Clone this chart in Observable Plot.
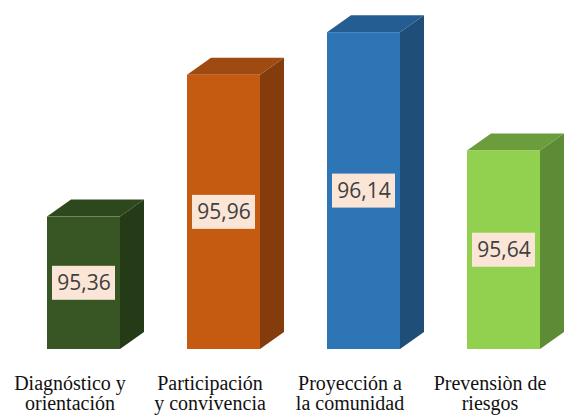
<!DOCTYPE html>
<html>
<head>
<meta charset="utf-8">
<script src="https://cdn.jsdelivr.net/npm/d3@7"></script>
<script src="https://cdn.jsdelivr.net/npm/@observablehq/plot@0.6"></script>
<style>
  html, body { margin: 0; padding: 0; background: #fff; }
  #chart { width: 565px; height: 415px; }
</style>
</head>
<body>
<div id="chart"></div>
<script>
// ---- data ----
const categories = ["Diagnóstico y orientación", "Participación y convivencia", "Proyección a la comunidad", "Prevensiòn de riesgos"];
const tickLabels = ["Diagnóstico y\norientación", "Participación\ny convivencia", "Proyección a\nla comunidad", "Prevensiòn de\nriesgos"];
const values = [95.36, 95.96, 96.14, 95.64];
const valueLabels = ["95,36", "95,96", "96,14", "95,64"];

// ---- styles ----
const frontColors = ["#375623", "#c55a11", "#2e75b6", "#92d050"];
const topColors = ["#2e481d", "#9f4a10", "#245d91", "#6c9d3d"];
const sideColors = ["#253a17", "#843c0c", "#1f4e79", "#5e8b35"];
const yMin = 94.8, yMax = 96.2;
const depthX = 24, depthY = -17;
const boxW = 63, boxH = 34;
const serifFont = "'Liberation Serif', 'DejaVu Serif', 'Times New Roman', Times, serif";

const data = categories.map((c, i) => ({cat: c, value: values[i], label: valueLabels[i], tick: tickLabels[i], i}));

const svgNS = "http://www.w3.org/2000/svg";
function poly(g, pts, fill) {
  const p = document.createElementNS(svgNS, "polygon");
  p.setAttribute("points", pts.map(q => q.join(",")).join(" "));
  p.setAttribute("fill", fill);
  g.appendChild(p);
}

// side + top faces of the 3D bars, positioned with Plot's scales
const depthMark = (index, scales) => {
  const g = document.createElementNS(svgNS, "g");
  const x = scales.x, y = scales.y, bw = x.bandwidth();
  data.forEach((d, i) => {
    const x0 = x(d.cat), x1 = x0 + bw;
    const yt = y(d.value), yb = y(yMin);
    poly(g, [[x1, yt], [x1 + depthX, yt + depthY], [x1 + depthX, yb + depthY], [x1, yb]], sideColors[i]);
    poly(g, [[x0, yt], [x0 + depthX, yt + depthY], [x1 + depthX, yt + depthY], [x1, yt]], topColors[i]);
  });
  return g;
};

// label backgrounds
const boxMark = (index, scales) => {
  const g = document.createElementNS(svgNS, "g");
  const x = scales.x, y = scales.y, bw = x.bandwidth();
  data.forEach(d => {
    const cx = x(d.cat) + bw / 2, cy = y((d.value + yMin) / 2);
    const r = document.createElementNS(svgNS, "rect");
    r.setAttribute("x", cx - boxW / 2);
    r.setAttribute("y", cy - boxH / 2);
    r.setAttribute("width", boxW);
    r.setAttribute("height", boxH);
    r.setAttribute("fill", "#fbe5d6");
    g.appendChild(r);
  });
  return g;
};

const chart = Plot.plot({
  width: 565,
  height: 415,
  marginTop: 18,
  marginBottom: 66,
  marginLeft: 0,
  marginRight: 0,
  style: {background: "#fff"},
  x: {domain: categories, range: [46, 541.5], paddingInner: 0.48, paddingOuter: 0, axis: null},
  y: {domain: [yMin, yMax], axis: null},
  color: {domain: categories, range: frontColors},
  marks: [
    depthMark,
    Plot.barY(data, {x: "cat", y1: () => yMin, y2: "value", fill: "cat"}),
    boxMark,
    Plot.text(data, {
      x: "cat",
      y: d => (d.value + yMin) / 2,
      text: "label",
      fontSize: 21,
      fontFamily: "Open Sans",
      fill: "#404040"
    }),
    Plot.text(data, {
      x: "cat",
      text: "tick",
      frameAnchor: "bottom",
      lineAnchor: "top",
      dy: 26,
      dx: -14,
      fontSize: 20,
      lineHeight: 1.0,
      fontFamily: serifFont,
      fill: "#111"
    })
  ]
});
document.getElementById("chart").appendChild(chart);
</script>
</body>
</html>
